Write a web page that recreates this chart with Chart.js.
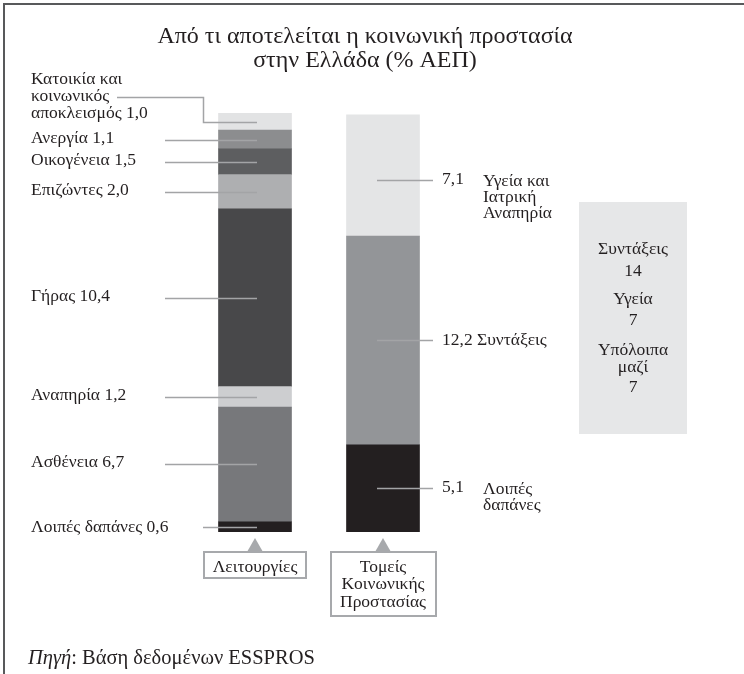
<!DOCTYPE html>
<html>
<head>
<meta charset="utf-8">
<script src="https://cdn.jsdelivr.net/npm/chart.js@4"></script>
<style>
  body { margin: 0; background: #fff; }
  canvas { display: block; }
</style>
</head>
<body>
<canvas id="chart" width="744" height="674"></canvas>
<script>
// stacked bottom -> top
const funcLabels = ['Λοιπές δαπάνες', 'Ασθένεια', 'Αναπηρία', 'Γήρας', 'Επιζώντες', 'Οικογένεια', 'Ανεργία', 'Κατοικία και κοινωνικός αποκλεισμός']
const funcValues = [0.6, 6.7, 1.2, 10.4, 2.0, 1.5, 1.1, 1.0]
const funcColors = ['#231f20', '#77787b', '#cdced0', '#48484a', '#aeafb1', '#5d5e60', '#8c8d8f', '#e2e3e4']

const sectorLabels = ['Λοιπές δαπάνες', 'Συντάξεις', 'Υγεία και Ιατρική Αναπηρία']
const sectorValues = [5.1, 12.2, 7.1]
const sectorColors = ['#231f20', '#939598', '#e4e5e6']

const barLabels = ['Λειτουργίες', 'Τομείς Κοινωνικής Προστασίας']
const summaryLabels = ['Συντάξεις', 'Υγεία', 'Υπόλοιπα μαζί']
const summaryValues = [14, 7, 7]

const titleLines = ['Από τι αποτελείται η κοινωνική προστασία', 'στην Ελλάδα (% ΑΕΠ)']
const FONT = '"Liberation Serif", "DejaVu Serif", serif'
const INK = '#231f20'
const LEADER = '#a3a4a6'
const FS = 17.5

function fmt(v) { return v.toFixed(1).replace('.', ',') }

let datasets = []
funcValues.forEach((v, i) => {
  datasets.push({ label: funcLabels[i], data: [v, null], backgroundColor: funcColors[i], stack: 's' })
})
sectorValues.forEach((v, i) => {
  datasets.push({ label: sectorLabels[i], data: [null, v], backgroundColor: sectorColors[i], stack: 's' })
})

function text(ctx, s, x, y, size, align, italic) {
  ctx.font = (italic ? 'italic ' : '') + size + 'px ' + FONT
  ctx.textAlign = align || 'left'
  ctx.textBaseline = 'middle'
  ctx.fillStyle = INK
  ctx.fillText(s, x, y)
}

function line(ctx, pts, color, w) {
  ctx.beginPath()
  ctx.moveTo(pts[0][0], pts[0][1])
  for (let k = 1; k < pts.length; k++) ctx.lineTo(pts[k][0], pts[k][1])
  ctx.strokeStyle = color
  ctx.lineWidth = w
  ctx.stroke()
}

function segMid(chart, dsIndex, col) {
  let el = chart.getDatasetMeta(dsIndex).data[col]
  return { x: el.x, y: Math.round((el.y + el.base) / 2) + 0.5 }
}

const annotations = {
  id: 'annotations',
  afterDraw(chart) {
    const ctx = chart.ctx
    ctx.save()

    // frame (top + left only, page is cropped)
    line(ctx, [[4, 674], [4, 4], [744, 4]], '#58595b', 2)

    // title
    text(ctx, titleLines[0], 365, 37, 24, 'center')
    text(ctx, titleLines[1], 365, 61, 24, 'center')

    // left bar labels
    const nF = funcValues.length
    for (let i = 0; i < nF; i++) {
      let m = segMid(chart, i, 0)
      if (i === nF - 1) {
        let words = ['Κατοικία και', 'κοινωνικός', 'αποκλεισμός ' + fmt(funcValues[i])]
        text(ctx, words[0], 31, 79, FS)
        text(ctx, words[1], 31, 96, FS)
        text(ctx, words[2], 31, 113, FS)
        line(ctx, [[117, 97.5], [203.5, 97.5], [203.5, m.y], [m.x + 2, m.y]], LEADER, 1.5)
      } else if (i === 0) {
        text(ctx, funcLabels[i] + ' ' + fmt(funcValues[i]), 31, m.y, FS)
        line(ctx, [[203, m.y], [m.x + 2, m.y]], LEADER, 1.5)
      } else {
        text(ctx, funcLabels[i] + ' ' + fmt(funcValues[i]), 31, m.y - 2, FS)
        line(ctx, [[165, m.y], [m.x + 2, m.y]], LEADER, 1.5)
      }
    }

    // right bar labels
    for (let j = 0; j < sectorValues.length; j++) {
      let m = segMid(chart, nF + j, 1)
      let y = m.y
      if (j === 2) y = m.y + 5
      line(ctx, [[m.x - 6, y], [433, y]], LEADER, 1.5)
      if (j === 1) {
        text(ctx, fmt(sectorValues[j]) + ' ' + sectorLabels[j], 442, y, FS)
      } else {
        text(ctx, fmt(sectorValues[j]), 442, y - 1, FS)
        let parts = j === 2 ? ['Υγεία και', 'Ιατρική', 'Αναπηρία'] : ['Λοιπές', 'δαπάνες']
        parts.forEach((p, k) => text(ctx, p, 483, y + 1 + k * 16, FS))
      }
    }

    // summary box
    ctx.fillStyle = '#e6e7e8'
    ctx.fillRect(579, 202, 108, 232)
    const cx = 633
    text(ctx, summaryLabels[0], cx, 249, FS, 'center')
    text(ctx, String(summaryValues[0]), cx, 271, FS, 'center')
    text(ctx, summaryLabels[1], cx, 299, FS, 'center')
    text(ctx, String(summaryValues[1]), cx, 320, FS, 'center')
    text(ctx, 'Υπόλοιπα', cx, 350, FS, 'center')
    text(ctx, 'μαζί', cx, 367, FS, 'center')
    text(ctx, String(summaryValues[2]), cx, 387, FS, 'center')

    // callouts under bars
    const boxes = [
      { w: 102, h: 26, lines: ['Λειτουργίες'] },
      { w: 105, h: 64, lines: ['Τομείς', 'Κοινωνικής', 'Προστασίας'] }
    ]
    boxes.forEach((b, c) => {
      let bx = chart.getDatasetMeta(c === 0 ? 0 : nF).data[c].x
      let top = 552
      ctx.fillStyle = '#a7a9ac'
      ctx.beginPath()
      ctx.moveTo(bx, 538)
      ctx.lineTo(bx - 8, top)
      ctx.lineTo(bx + 8, top)
      ctx.closePath()
      ctx.fill()
      ctx.strokeStyle = '#a7a9ac'
      ctx.lineWidth = 2
      ctx.strokeRect(Math.round(bx - b.w / 2), top, b.w, b.h)
      b.lines.forEach((s, k) => text(ctx, s, bx, top + 15 + k * 17.5, FS, 'center'))
    })

    // source
    ctx.font = 'italic 20.5px ' + FONT
    let w = ctx.measureText('Πηγή').width
    text(ctx, 'Πηγή', 28, 659, 20.5, 'left', true)
    text(ctx, ': Βάση δεδομένων ESSPROS', 28 + w, 659, 20.5)

    ctx.restore()
  }
}

new Chart(document.getElementById('chart'), {
  type: 'bar',
  data: { labels: barLabels, datasets: datasets },
  options: {
    responsive: false,
    animation: false,
    layout: { padding: { left: 191, right: 297, top: 113, bottom: 142 } },
    datasets: { bar: { barThickness: 73, borderWidth: 0, skipNull: true } },
    plugins: { legend: { display: false }, tooltip: { enabled: false } },
    scales: {
      x: { display: false, stacked: true },
      y: { display: false, stacked: true, min: 0, max: 24.5 }
    }
  },
  plugins: [annotations]
})
</script>
</body>
</html>
